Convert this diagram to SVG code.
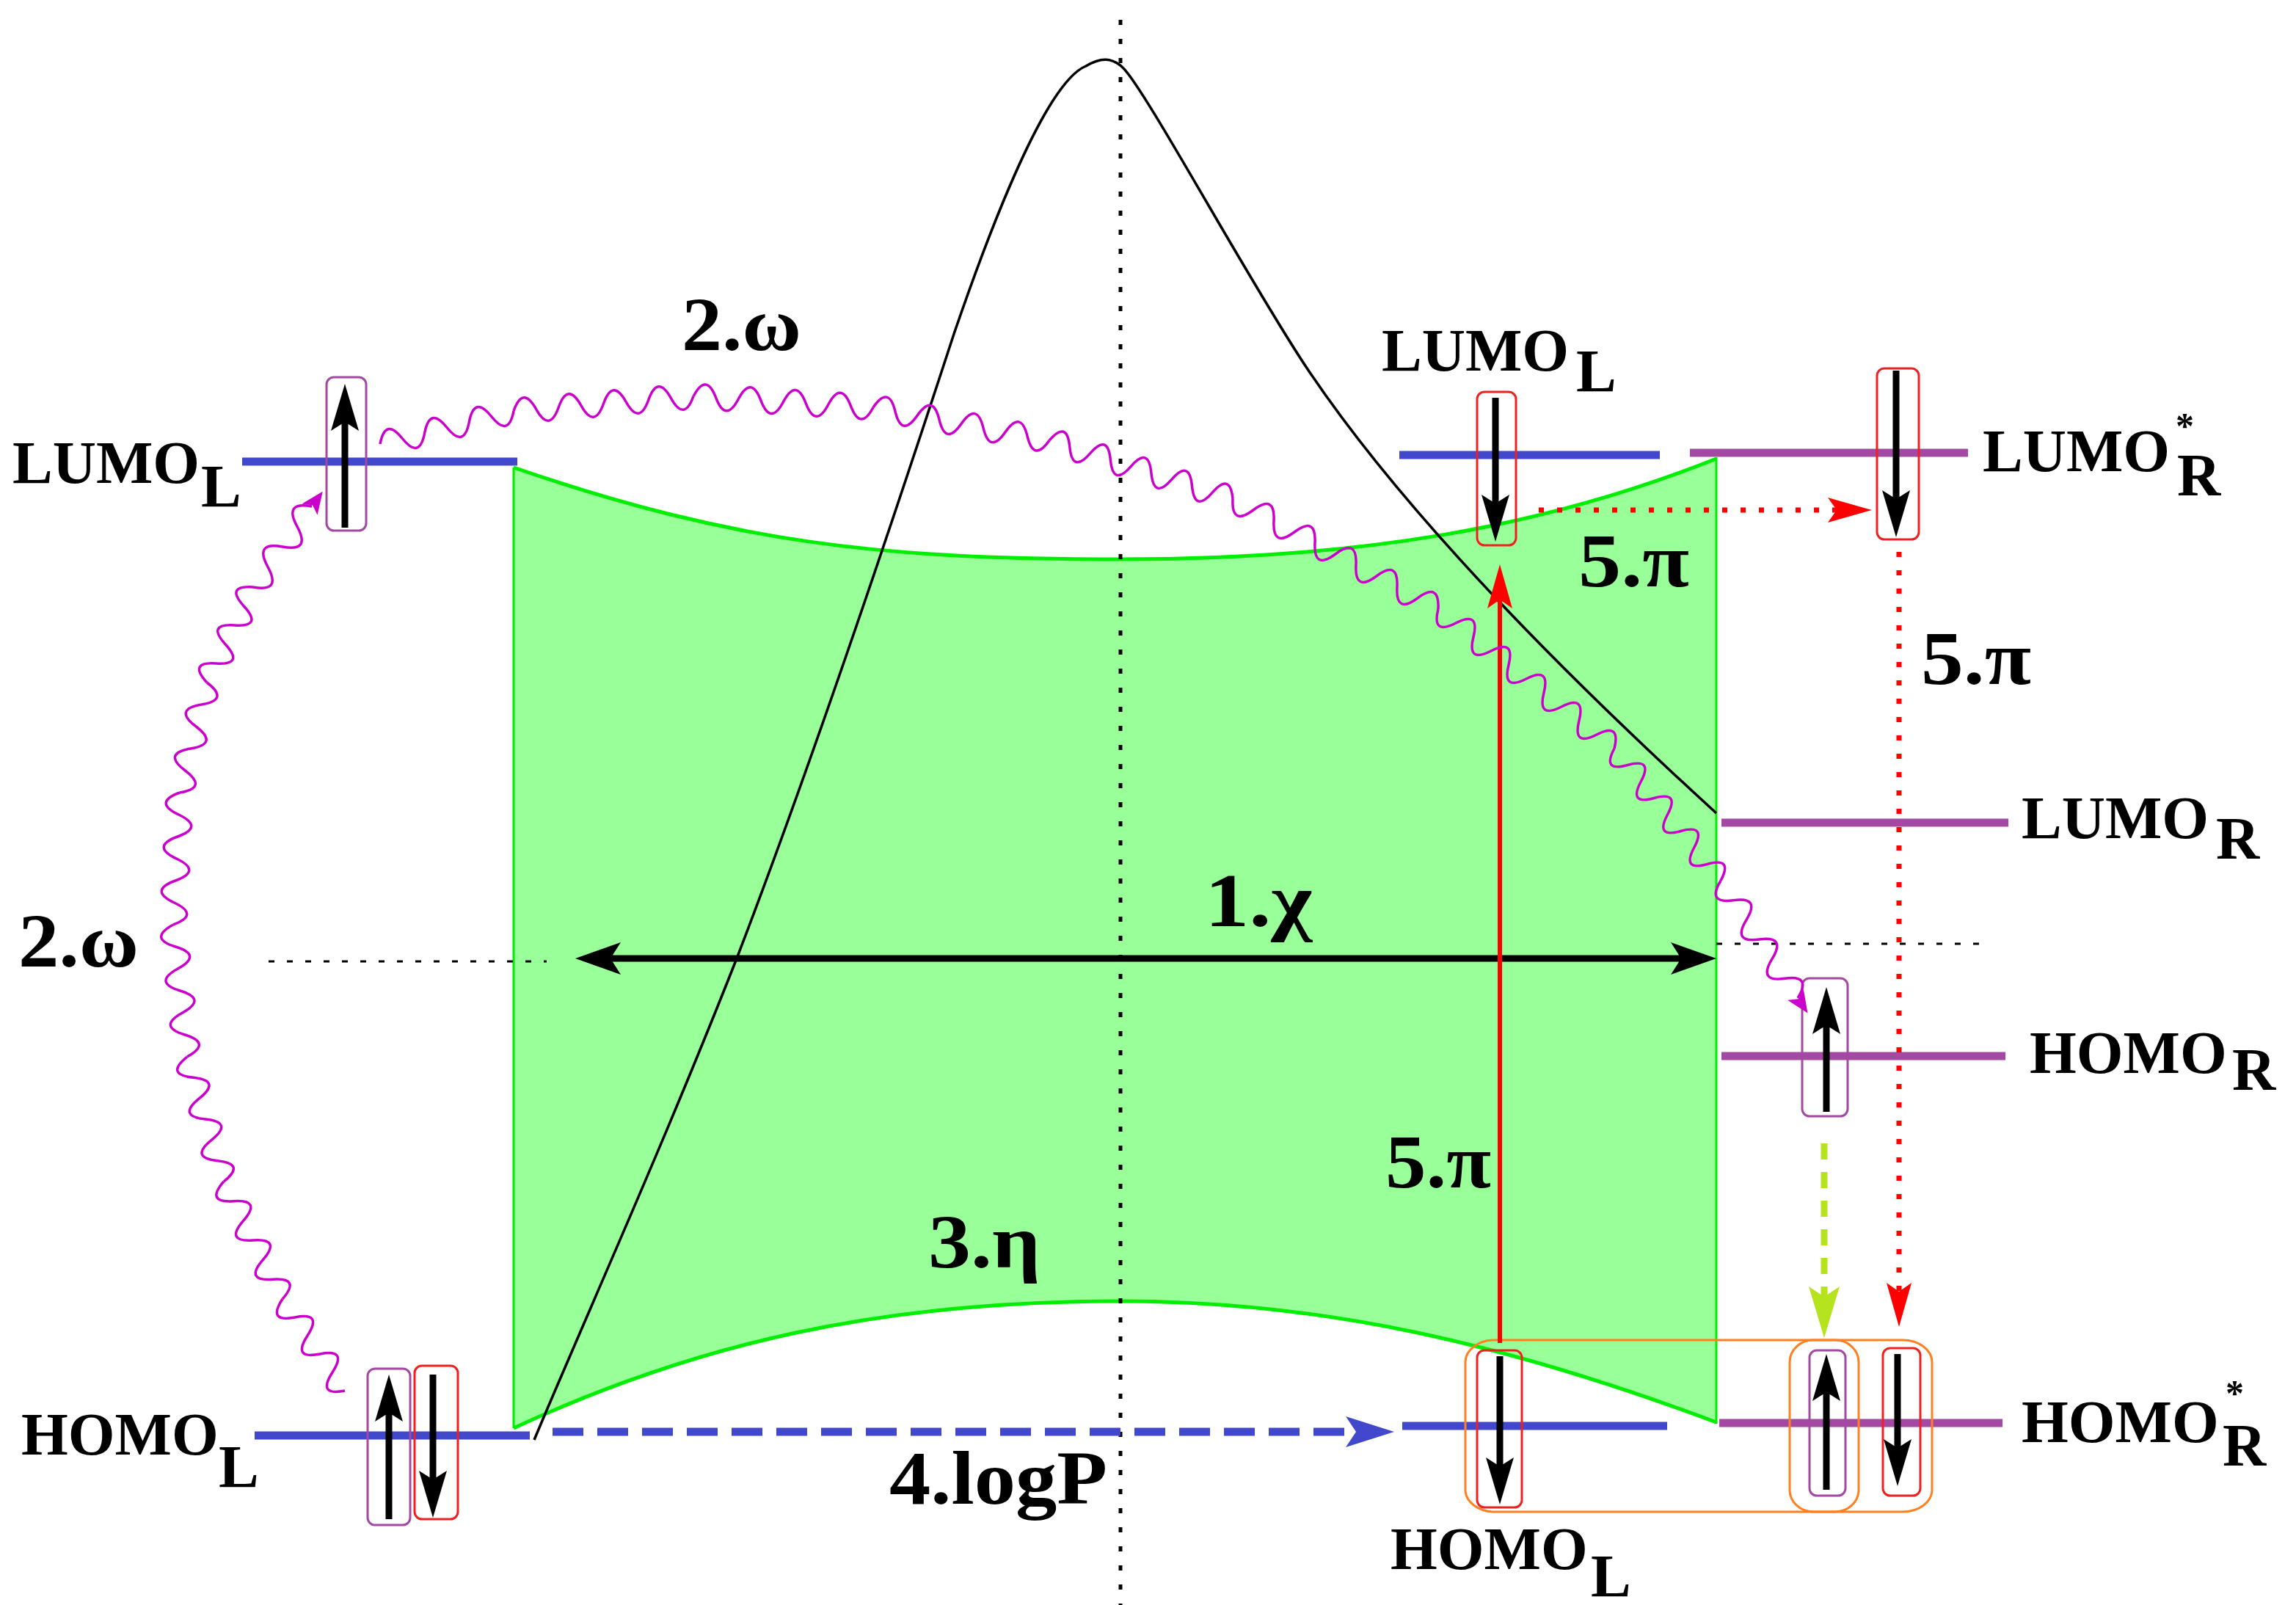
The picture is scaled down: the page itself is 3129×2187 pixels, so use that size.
<svg xmlns="http://www.w3.org/2000/svg" width="3129" height="2187" viewBox="0 0 3129 2187">
<defs>
<style>
text { font-family: "Liberation Serif", "Times New Roman", serif; font-weight: bold; fill: #000; }
.lvl { font-size: 82px; }
.lab { font-size: 103px; }
.star { font-size: 50px; }
.blue { stroke: #4148CC; stroke-width: 11; }
.purp { stroke: #A349A4; stroke-width: 11; }
.boxP { fill: none; stroke: #A349A4; stroke-width: 3; }
.boxR { fill: none; stroke: #EE2020; stroke-width: 3; }
.boxO { fill: none; stroke: #FF8020; stroke-width: 3; }
.spin { stroke: #000; stroke-width: 9; marker-end: url(#mSpin); }
.wave { fill: none; stroke: #CC00CC; stroke-width: 3.5; stroke-linejoin: round; }
.dot { fill: none; stroke: #000; stroke-width: 3; stroke-dasharray: 8 17; }
</style>
<marker id="mSpin" markerUnits="userSpaceOnUse" viewBox="0 0 64 38" markerWidth="64" markerHeight="38" refX="24" refY="19" orient="auto"><path d="M0,0 L64,19 L0,38 L12,19 Z" fill="#000"/></marker>
<marker id="mChi" markerUnits="userSpaceOnUse" viewBox="0 0 62 44" markerWidth="62" markerHeight="44" refX="22" refY="22" orient="auto-start-reverse"><path d="M0,0 L62,22 L0,44 L14,22 Z" fill="#000"/></marker>
<marker id="mRed" markerUnits="userSpaceOnUse" viewBox="0 0 60 34" markerWidth="60" markerHeight="34" refX="20" refY="17" orient="auto"><path d="M0,0 L60,17 L0,34 L12,17 Z" fill="#FF0000"/></marker>
<marker id="mBlue" markerUnits="userSpaceOnUse" viewBox="0 0 66 42" markerWidth="66" markerHeight="42" refX="26" refY="21" orient="auto"><path d="M0,0 L66,21 L0,42 L14,21 Z" fill="#4148CC"/></marker>
<marker id="mYG" markerUnits="userSpaceOnUse" viewBox="0 0 70 42" markerWidth="70" markerHeight="42" refX="30" refY="21" orient="auto"><path d="M0,0 L70,21 L0,42 L14,21 Z" fill="#B5E31E"/></marker>
<path id="magHead" d="M0,0 L-30,-13 L-23,0 L-30,13 Z" fill="#CC00CC"/>
</defs>

<rect width="3129" height="2187" fill="#fff"/>

<g id="gap-region">
<path d="M700,637 C1000,740 1200,762 1527,762 C1850,762 2100,720 2339,625 L2339,1938 C2050,1830 1800,1773 1527,1773 C1200,1773 950,1830 700,1946 Z" fill="#99FF99"/>
<path d="M700,637 C1000,740 1200,762 1527,762 C1850,762 2100,720 2339,625" fill="none" stroke="#00EE00" stroke-width="5"/>
<path d="M700,1946 C950,1830 1200,1773 1527,1773 C1800,1773 2050,1830 2339,1938" fill="none" stroke="#00EE00" stroke-width="5"/>
<line x1="700" y1="637" x2="700" y2="1946" stroke="#00EE00" stroke-width="3"/>
<line x1="2339" y1="623" x2="2339" y2="1940" stroke="#00EE00" stroke-width="3"/>
</g>

<g id="axes">
<line x1="1527" y1="27" x2="1527" y2="2187" stroke="#000" stroke-width="5" stroke-dasharray="7 19"/>
<line class="dot" x1="366" y1="1310" x2="745" y2="1310"/>
<line class="dot" x1="2339" y1="1286" x2="2702" y2="1286"/>
<path d="M728,1962 C800,1790 900,1570 1004,1306 C1110,1030 1220,700 1300,455 C1360,280 1430,110 1480,90 C1500,78 1515,78 1530,92 C1560,120 1700,380 1780,500 C1900,680 2100,890 2339,1108" fill="none" stroke="#000" stroke-width="3.5" stroke-linejoin="round"/>
</g>

<g id="LUMO_L_left">
<line class="blue" x1="330" y1="629" x2="705" y2="629"/>
<rect class="boxP" x="445" y="514" width="54" height="209" rx="10"/>
<line class="spin" x1="470" y1="719" x2="470" y2="563"/>
<text class="lvl" x="17" y="658">LUMO<tspan x="274" y="690">L</tspan></text>
</g>

<g id="HOMO_L_left">
<line class="blue" x1="347" y1="1956" x2="722" y2="1956"/>
<rect class="boxP" x="501" y="1865" width="58" height="213" rx="10"/>
<rect class="boxR" x="565" y="1861" width="59" height="209" rx="10"/>
<line class="spin" x1="530" y1="2070" x2="530" y2="1913"/>
<line class="spin" x1="590" y1="1873" x2="590" y2="2028"/>
<text class="lvl" x="29" y="1982">HOMO<tspan x="298" y="2026">L</tspan></text>
</g>

<g id="LUMO_L_right">
<line class="blue" x1="1907" y1="620" x2="2262" y2="620"/>
<rect class="boxR" x="2013" y="534" width="53" height="209" rx="10"/>
<line class="spin" x1="2038" y1="542" x2="2038" y2="698"/>
<text class="lvl" x="1883" y="505">LUMO<tspan x="2148" y="533">L</tspan></text>
</g>

<g id="LUMO_R_star">
<line class="purp" x1="2303" y1="617" x2="2682" y2="617"/>
<rect class="boxR" x="2558" y="502" width="57" height="233" rx="10"/>
<line class="spin" x1="2584" y1="505" x2="2584" y2="692"/>
<text class="lvl" x="2702" y="642">LUMO<tspan class="star" x="2965" y="597">*</tspan><tspan x="2967" y="675">R</tspan></text>
</g>

<g id="LUMO_R">
<line class="purp" x1="2346" y1="1121" x2="2737" y2="1121"/>
<text class="lvl" x="2755" y="1142">LUMO<tspan x="3020" y="1170">R</tspan></text>
</g>

<g id="HOMO_R">
<line class="purp" x1="2346" y1="1439" x2="2733" y2="1439"/>
<rect class="boxP" x="2456" y="1333" width="62" height="188" rx="10"/>
<line class="spin" x1="2489" y1="1515" x2="2489" y2="1385"/>
<text class="lvl" x="2766" y="1462">HOMO<tspan x="3042" y="1485">R</tspan></text>
</g>

<g id="HOMO_L_right">
<line class="blue" x1="1911" y1="1943" x2="2272" y2="1943"/>
<rect class="boxR" x="2013" y="1840" width="61" height="214" rx="10"/>
<line class="spin" x1="2044" y1="1848" x2="2044" y2="2010"/>
<text class="lvl" x="1895" y="2138">HOMO<tspan x="2168" y="2175">L</tspan></text>
</g>

<g id="HOMO_R_star">
<line class="purp" x1="2343" y1="1939" x2="2729" y2="1939"/>
<rect class="boxP" x="2466" y="1840" width="49" height="198" rx="10"/>
<rect class="boxR" x="2566" y="1837" width="51" height="201" rx="10"/>
<line class="spin" x1="2489" y1="2030" x2="2489" y2="1885"/>
<line class="spin" x1="2586" y1="1845" x2="2586" y2="1985"/>
<text class="lvl" x="2755" y="1965">HOMO<tspan class="star" x="3033" y="1915">*</tspan><tspan x="3029" y="1997">R</tspan></text>
</g>

<g id="pair-box">
<rect class="boxO" x="1997" y="1826" width="636" height="234" rx="40" ry="30"/>
<rect class="boxO" x="2439" y="1826" width="94" height="234" rx="32" ry="30"/>
</g>

<g id="connectors">
<line x1="824" y1="1306" x2="2299" y2="1306" stroke="#000" stroke-width="9" marker-start="url(#mChi)" marker-end="url(#mChi)"/>
<line x1="2044" y1="1830" x2="2044" y2="809" stroke="#FF0000" stroke-width="6" marker-end="url(#mRed)"/>
<line x1="2097" y1="695" x2="2511" y2="695" stroke="#FF0000" stroke-width="7" stroke-dasharray="7 18" marker-end="url(#mRed)"/>
<line x1="2588" y1="752" x2="2588" y2="1768" stroke="#FF0000" stroke-width="7" stroke-dasharray="7 18" marker-end="url(#mRed)"/>
<line x1="2486" y1="1558" x2="2486" y2="1783" stroke="#B5E31E" stroke-width="9" stroke-dasharray="22 17" marker-end="url(#mYG)"/>
<line x1="753" y1="1951" x2="1860" y2="1951" stroke="#4148CC" stroke-width="11" stroke-dasharray="42 19" marker-end="url(#mBlue)"/>

<g id="wave-upper">
<path class="wave" transform="translate(518,605) rotate(-13.89)" d="M0,0q15.63,-34 31.25,0t31.25,0t31.25,0t31.25,0t31.25,0t31.25,0"/>
<path class="wave" transform="translate(700,560) rotate(-4.67)" d="M0,0q15.36,-34 30.72,0t30.72,0t30.72,0t30.72,0t30.72,0t30.72,0t30.72,0t30.72,0"/>
<path class="wave" transform="translate(945,540) rotate(3.5)" d="M0,0q15.35,-34 30.69,0t30.69,0t30.69,0t30.69,0t30.69,0t30.69,0t30.69,0t30.69,0"/>
<path class="wave" transform="translate(1190,555) rotate(10.62)" d="M0,0q15.27,-34 30.53,0t30.53,0t30.53,0t30.53,0t30.53,0t30.53,0t30.53,0t30.53,0"/>
<path class="wave" transform="translate(1430,600) rotate(17.74)" d="M0,0q14.59,-34 29.17,0t29.17,0t29.17,0t29.17,0t29.17,0t29.17,0t29.17,0t29.17,0t29.17,0"/>
<path class="wave" transform="translate(1680,680) rotate(28.18)" d="M0,0q15.88,34 31.76,0t31.76,0t31.76,0t31.76,0t31.76,0t31.76,0t31.76,0t31.76,0t31.76,0t31.76,0"/>
<path class="wave" transform="translate(1960,830) rotate(38.37)" d="M0,0q15.31,34 30.61,0t30.61,0t30.61,0t30.61,0t30.61,0t30.61,0t30.61,0t30.61,0t30.61,0t30.61,0"/>
<path class="wave" transform="translate(2200,1020) rotate(51.15)" d="M0,0q14.45,34 28.89,0t28.89,0t28.89,0t28.89,0t28.89,0t28.89,0t28.89,0t28.89,0"/>
<g transform="translate(2345,1200) rotate(56.73)">
<path class="wave" d="M0,0q15.95,34 31.9,0t31.9,0t31.9,0t31.9,0t31.9,0t31.9,0"/>
<use href="#magHead" x="216"/>
</g>
</g>

<g id="wave-left">
<path class="wave" transform="translate(470,1895) rotate(-124.22)" d="M0,0q15.12,-36 30.24,0t30.24,0t30.24,0t30.24,0t30.24,0"/>
<path class="wave" transform="translate(385,1770) rotate(-116.57)" d="M0,0q14.91,36 29.82,0t29.82,0t29.82,0t29.82,0t29.82,0t29.82,0"/>
<path class="wave" transform="translate(305,1610) rotate(-106.39)" d="M0,0q14.77,36 29.53,0t29.53,0t29.53,0t29.53,0t29.53,0t29.53,0"/>
<path class="wave" transform="translate(255,1440) rotate(-96.03)" d="M0,0q15.09,36 30.17,0t30.17,0t30.17,0t30.17,0t30.17,0t30.17,0"/>
<path class="wave" transform="translate(236,1260) rotate(-87.14)" d="M0,0q15.02,36 30.04,0t30.04,0t30.04,0t30.04,0t30.04,0t30.04,0"/>
<path class="wave" transform="translate(245,1080) rotate(-76.14)" d="M0,0q15.45,36 30.9,0t30.9,0t30.9,0t30.9,0t30.9,0"/>
<path class="wave" transform="translate(282,930) rotate(-64.14)" d="M0,0q14.45,-36 28.9,0t28.9,0t28.9,0t28.9,0t28.9,0"/>
<g transform="translate(345,800) rotate(-53.97)">
<path class="wave" d="M0,0q17,36 34,0t34,0t34,0t34,0"/>
<use href="#magHead" x="161"/>
</g>
</g>
</g>

<g id="labels">
<text class="lab" x="929" y="477" textLength="163" lengthAdjust="spacingAndGlyphs">2.ω</text>
<text class="lab" x="25" y="1317" textLength="164" lengthAdjust="spacingAndGlyphs">2.ω</text>
<text class="lab" x="1642" y="1262" textLength="146" lengthAdjust="spacingAndGlyphs">1.χ</text>
<text class="lab" x="1265" y="1727" textLength="153" lengthAdjust="spacingAndGlyphs">3.η</text>
<text class="lab" x="1212" y="2049" textLength="297" lengthAdjust="spacingAndGlyphs">4.logP</text>
<text class="lab" x="2151" y="799" textLength="151" lengthAdjust="spacingAndGlyphs">5.π</text>
<text class="lab" x="2618" y="932" textLength="150" lengthAdjust="spacingAndGlyphs">5.π</text>
<text class="lab" x="1888" y="1618" textLength="144" lengthAdjust="spacingAndGlyphs">5.π</text>
</g>
</svg>
